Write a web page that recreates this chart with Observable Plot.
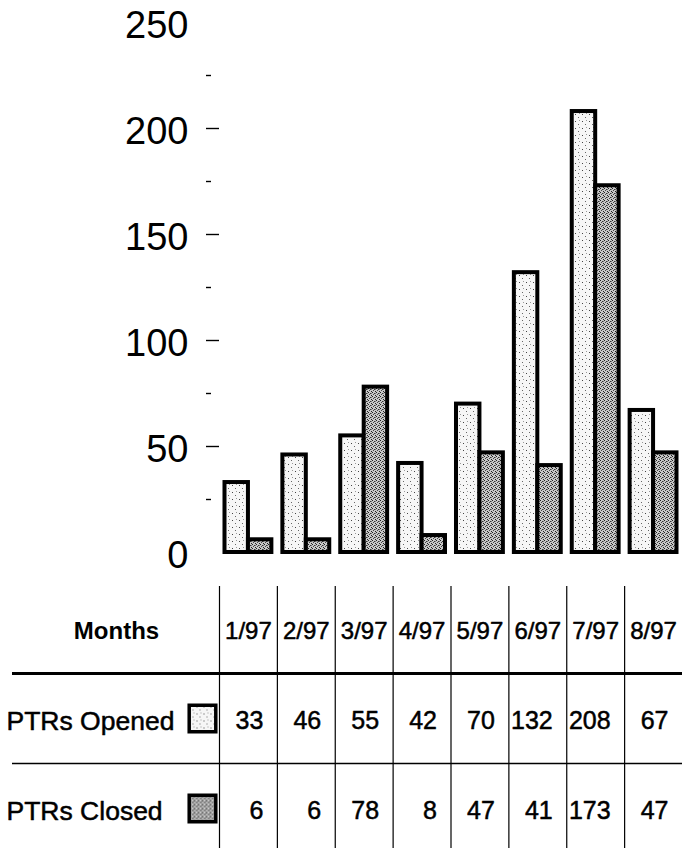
<!DOCTYPE html>
<html>
<head>
<meta charset="utf-8">
<script src="https://cdn.jsdelivr.net/npm/d3@7"></script>
<script src="https://cdn.jsdelivr.net/npm/@observablehq/plot@0.6"></script>
<style>
  html, body { margin: 0; padding: 0; background: #fff; }
  #chart svg, #table svg { display: block; }
</style>
</head>
<body>
<!-- Stipple fills shared by the bars and the table swatches -->
<svg width="0" height="0" style="position:absolute">
  <defs>
    <pattern id="stipple-open" width="7" height="7" patternUnits="userSpaceOnUse" shape-rendering="crispEdges">
      <rect width="7" height="7" fill="#f6f6f6"/>
      <rect x="1" y="2" width="1" height="1" fill="#444"/>
      <rect x="4" y="5" width="1" height="1" fill="#666"/>
      <rect x="5" y="1" width="1" height="1" fill="#999"/>
    </pattern>
    <pattern id="stipple-closed" width="4" height="4" patternUnits="userSpaceOnUse" shape-rendering="crispEdges">
      <rect width="4" height="4" fill="#c8c8c8"/>
      <rect x="0" y="0" width="1" height="1" fill="#222"/>
      <rect x="2" y="1" width="1" height="1" fill="#333"/>
      <rect x="1" y="2" width="1" height="1" fill="#444"/>
      <rect x="3" y="3" width="1" height="1" fill="#222"/>
      <rect x="3" y="1" width="1" height="1" fill="#777"/>
    </pattern>
  </defs>
</svg>
<div id="chart"></div>
<div id="table"></div>
<script>
// Monthly PTR counts
const months = ["1/97", "2/97", "3/97", "4/97", "5/97", "6/97", "7/97", "8/97"];
const opened = [33, 46, 55, 42, 70, 132, 208, 67];
const closed = [6, 6, 78, 8, 47, 41, 173, 47];
const seriesNames = ["PTRs Opened", "PTRs Closed"];
const headerLabel = "Months";
const yTickLabels = [0, 50, 100, 150, 200, 250];
const yMajorTicks = [50, 100, 150, 200];
const yMinorTicks = [25, 75, 125, 175, 225];

const seriesFill = {
  "PTRs Opened": "url(#stipple-open)",
  "PTRs Closed": "url(#stipple-closed)"
};

const rows = months.flatMap((m, i) => [
  {month: m, series: seriesNames[0], value: opened[i]},
  {month: m, series: seriesNames[1], value: closed[i]}
]);

const W = 682;
const left = 219;
const step = (W - left) / months.length;
const padInner = 0.19;
const bandW = step * (1 - padInner);
const font = "'Liberation Sans', Arial, Helvetica, sans-serif";
const baseStyle = {fontFamily: font, color: "black", background: "white"};
// a hairline outline thickens the glyphs a little, like the printed lettering
const ink = {fill: "black", stroke: "black", strokeWidth: 0.5};

// Bar chart
const chart = Plot.plot({
  width: W,
  height: 575,
  marginLeft: left,
  marginRight: 0,
  marginTop: 22,
  marginBottom: 23,
  style: baseStyle,
  x: {type: "band", domain: months, paddingInner: padInner, paddingOuter: padInner / 2, round: false, axis: null},
  y: {domain: [0, 250], axis: null, label: null},
  marks: [
    Plot.axisY({ticks: yTickLabels, tickSize: 0, tickPadding: 31, fontSize: 38, dy: 3, label: null}),
    Plot.axisY({ticks: yMajorTicks, tickSize: 13, text: null, strokeWidth: 1.4, label: null}),
    Plot.axisY({ticks: yMinorTicks, tickSize: 5, dx: -8, text: null, strokeWidth: 1.4, label: null}),
    Plot.barY(rows.filter(d => d.series === seriesNames[0]), {
      x: "month", y: "value", insetRight: bandW / 2,
      fill: seriesFill[seriesNames[0]], stroke: "black", strokeWidth: 4
    }),
    Plot.barY(rows.filter(d => d.series === seriesNames[1]), {
      x: "month", y: "value", insetLeft: bandW / 2,
      fill: seriesFill[seriesNames[1]], stroke: "black", strokeWidth: 4
    })
  ]
});
document.getElementById("chart").append(chart);

// Data table under the bars
const rowDomain = [headerLabel, ...seriesNames];
const rowTop = 8, rowBottom = 278;
const rowStep = (rowBottom - rowTop) / rowDomain.length;

const table = Plot.plot({
  width: W,
  height: 273,
  marginLeft: 0,
  marginRight: 0,
  marginTop: 11,
  marginBottom: 0,
  style: baseStyle,
  x: {type: "band", domain: months, range: [left, W], padding: 0, round: false, axis: null},
  y: {type: "band", domain: rowDomain, range: [rowTop, rowBottom], padding: 0, round: false, axis: null},
  marks: [
    Plot.ruleX(months, {x: d => d, dx: -step / 2, strokeWidth: 1.2}),
    Plot.ruleY([seriesNames[0]], {y: d => d, dy: -rowStep / 2, strokeWidth: 3, insetLeft: 12}),
    Plot.ruleY([seriesNames[1]], {y: d => d, dy: -rowStep / 2, strokeWidth: 1.3, insetLeft: 12}),
    Plot.text([headerLabel], {y: d => d, frameAnchor: "left", textAnchor: "middle", dx: 116, dy: 3, fontWeight: "bold", fontSize: 24}),
    Plot.text(months, {x: d => d, y: () => headerLabel, dy: 3, fontSize: 24, ...ink}),
    Plot.text(seriesNames, {y: d => d, frameAnchor: "left", textAnchor: "start", dx: 6, dy: 3, fontSize: 26.5, ...ink}),
    ...seriesNames.map(s => Plot.dot([s], {
      y: d => d, frameAnchor: "left", dx: 202, symbol: "square", r: 15,
      fill: seriesFill[s], stroke: "black", strokeWidth: 3.5
    })),
    Plot.text(rows, {
      x: "month", y: "series", text: d => String(d.value),
      textAnchor: "end", dx: step / 2 - 14, dy: 2, fontSize: 25, ...ink
    })
  ]
});
document.getElementById("table").append(table);
</script>
</body>
</html>
